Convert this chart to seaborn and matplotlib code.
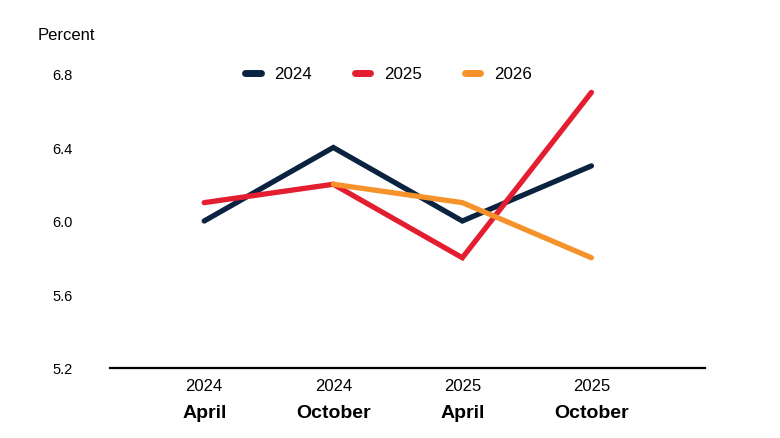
import numpy as np
import pandas as pd
import matplotlib
matplotlib.use("Agg")
import matplotlib.pyplot as plt
from matplotlib import transforms
from matplotlib.lines import Line2D
import seaborn as sns

# ---- data ----
years_lbl = ["2024", "2024", "2025", "2025"]
months_lbl = ["April", "October", "April", "October"]
series_names = ["2024", "2025", "2026"]
vals_2024 = [6.0, 6.4, 6.0, 6.3]
vals_2025 = [6.1, 6.2, 5.8, 6.7]
vals_2026 = [np.nan, 6.2, 6.1, 5.8]
colors = ["#0b2341", "#e41e31", "#f5932a"]
y_ticks = [5.2, 5.6, 6.0, 6.4, 6.8]

sns.set_theme(style="white")
plt.rcParams["font.family"] = ["Liberation Sans", "DejaVu Sans"]
plt.rcParams["text.color"] = "black"
plt.rcParams["xtick.color"] = "black"
plt.rcParams["ytick.color"] = "black"

rows = []
for name, vals in zip(series_names, [vals_2024, vals_2025, vals_2026]):
    for i, v in enumerate(vals):
        rows.append({"pos": i, "value": v, "series": name})
df = pd.DataFrame(rows).dropna()

fig = plt.figure(figsize=(7.8, 4.39), dpi=100)
ax = fig.add_axes([110/780, (439-369)/439, (705-110)/780, (369-75)/439])

sns.lineplot(data=df, x="pos", y="value", hue="series", hue_order=series_names,
             palette=colors, linewidth=3.8, ax=ax, legend=False, sort=False)
for ln in ax.get_lines():
    ln.set_solid_capstyle("round")
    ln.set_solid_joinstyle("miter")
    ln.set_clip_on(False)

ax.set_xlim(-0.73, 3.88)
ax.set_ylim(5.2, 6.8)
ax.set_yticks(y_ticks)
ax.set_yticklabels([f"{t:.1f}" for t in y_ticks], fontsize=10.5, color="black")
ax.set_xticks(range(len(years_lbl)))
ax.set_xticklabels(years_lbl, fontsize=12, color="black")
ax.tick_params(axis="y", length=0, pad=27)
ax.tick_params(axis="x", length=0, pad=7)
ax.set_xlabel("")
ax.set_ylabel("")
for s in ["left", "right", "top"]:
    ax.spines[s].set_visible(False)
ax.spines["bottom"].set_color("black")
ax.spines["bottom"].set_linewidth(1.6)
ax.grid(False)

trans = transforms.blended_transform_factory(ax.transData, ax.transAxes)
for i, m in enumerate(months_lbl):
    ax.text(i, -45/294, m, transform=trans, ha="center", va="center",
            fontsize=14, fontweight="bold", color="black")

fig.text(38/780, 1-35/439, "Percent", ha="left", va="center", fontsize=12, color="black")

handles = [Line2D([0], [0], color=c, linewidth=5, solid_capstyle="round") for c in colors]
leg = fig.legend(handles, series_names, loc="center", bbox_to_anchor=(0.498, 1-75/439),
                 ncol=3, frameon=False, fontsize=12.2, handlelength=0.9, handletextpad=0.8,
                 columnspacing=2.55)
for t in leg.get_texts():
    t.set_color("black")

fig.savefig("out.png", dpi=100)
